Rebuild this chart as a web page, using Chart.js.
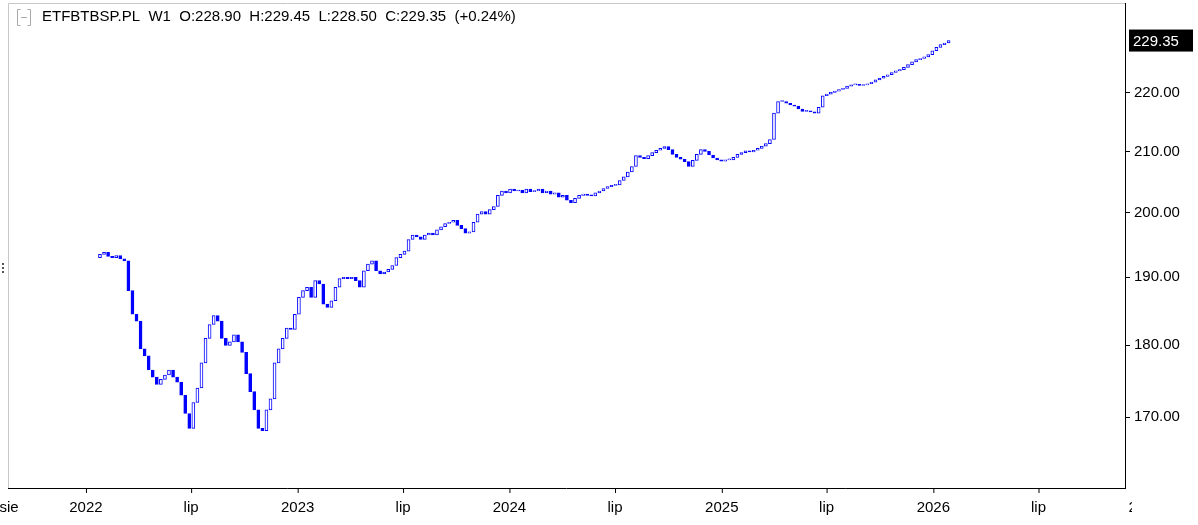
<!DOCTYPE html>
<html><head><meta charset="utf-8">
<script src="https://cdn.jsdelivr.net/npm/chart.js@4"></script>
<style>html,body{margin:0;padding:0;background:#fff}#w{width:1198px;height:525px}</style>
</head><body><div id="w"><canvas id="c"></canvas></div>
<script>
const symbol = "ETFBTBSP.PL";
const headerText = "ETFBTBSP.PL  W1  O:228.90  H:229.45  L:228.50  C:229.35  (+0.24%)";
const lastPrice = 229.35;
// weeks since 2022-01-01 of the first candle
const firstWeek = 3.45;
const closes = [
193.5,193.8,193.2,193.0,193.3,192.8,192.5,188,184.5,183.5,179.5,178.5,176.5,175.5,174.5,175.2,175.8,176.5,175.5,174.8,
173,170.5,168.5,172,174,177.5,181,183,184.3,183.5,181,180,180.5,181.5,180.5,179,176,173.5,171,168.5,
168.2,171,172.5,177.5,179.5,181,182.5,182.3,184.5,187,188,188.5,187,189.5,189,186,185.5,186.5,188.5,189.8,
190,189.8,190,189.5,188.5,191,192,192.5,191,190.5,190.8,191.2,191.8,193,193.5,194,195.8,196.5,196.2,195.8,
196.5,196.8,196.5,197.3,197.8,198.3,198.5,198.8,198,197.5,196.8,197,198.5,199.8,200.2,199.8,200.5,201,202.8,203.5,
203.2,203.8,203.5,203.6,203.2,203.8,203.4,203.5,203.8,203.2,203.5,203,203.2,202.5,202.8,202,201.6,202.3,202.8,203,
202.8,202.7,203.2,203.5,203.9,204.2,204.4,204.5,205.2,205.8,206.6,207.5,209.3,209,208.8,209.3,209.8,210.2,210.5,210.8,
210.3,209.5,209,208.7,208.3,207.5,208.5,209.5,210.3,210,209.4,208.9,208.6,208.4,208.6,208.6,209,209.5,209.8,210.1,
209.9,210.2,210.5,210.9,211.3,212,216.5,218.5,218.5,218.2,217.9,217.7,217.2,216.8,216.8,216.7,216.5,217.5,219.5,219.8,
220.1,220.3,220.6,220.8,221.2,221.4,221.5,221.3,221.4,221.6,221.9,222.3,222.6,222.9,223.2,223.6,223.9,224.1,224.5,225,
225.5,225.9,226.1,226.4,226.8,227.5,228.1,228.6,228.9,229.35];
const firstOpen = 193.0;
const yTicks = [170,180,190,200,210,220];
const xTickLabels = ["sie","2022","lip","2023","lip","2024","lip","2025","lip","2026","lip","2027"];
const xTickWeeks = [-21.9,0,25.9,52.14,78.1,104.3,130.3,156.6,182.4,208.7,234.6,260.9];

const bars = closes.map((c,i)=>({x:firstWeek+i, y:[i===0?firstOpen:closes[i-1], c]}));
const BLUE = '#0000ff';

const overlay = {
  id:'overlay',
  afterDraw(chart){
    const {ctx, chartArea:a, scales:{x,y}} = chart;
    ctx.save();
    ctx.strokeStyle='#c8c8c8'; ctx.lineWidth=1;
    ctx.beginPath(); ctx.moveTo(a.left+0.5,a.bottom); ctx.lineTo(a.left+0.5,a.top+0.5); ctx.lineTo(a.right,a.top+0.5); ctx.stroke();
    ctx.strokeStyle='#000';
    ctx.beginPath(); ctx.moveTo(a.left,a.bottom+0.5); ctx.lineTo(a.right,a.bottom+0.5); ctx.stroke();
    ctx.save();
    ctx.beginPath(); ctx.rect(0,a.bottom,1132,60); ctx.clip();
    ctx.fillStyle='#000'; ctx.font='15px "Liberation Sans", Arial'; ctx.textAlign='center'; ctx.textBaseline='middle';
    xTickLabels.forEach((l,i)=>{
      const px = x.getPixelForValue(xTickWeeks[i]);
      if(px>a.left && px<a.right){ctx.beginPath(); ctx.moveTo(px+0.5,a.bottom); ctx.lineTo(px+0.5,a.bottom+5); ctx.stroke();}
      ctx.fillText(l, i===0?px+12:px, a.bottom+20);
    });
    ctx.restore();
    ctx.fillStyle='#000'; ctx.font='15px "Liberation Sans", Arial'; ctx.textAlign='left'; ctx.textBaseline='middle';
    ctx.fillText(headerText, 42, 17);
    ctx.strokeStyle='#aaa'; ctx.beginPath();
    ctx.moveTo(20.5,9.5); ctx.lineTo(17.5,9.5); ctx.lineTo(17.5,25.5); ctx.lineTo(20.5,25.5);
    ctx.moveTo(27.5,9.5); ctx.lineTo(30.5,9.5); ctx.lineTo(30.5,25.5); ctx.lineTo(27.5,25.5);
    ctx.moveTo(21,17.5); ctx.lineTo(27,17.5); ctx.stroke();
    ctx.fillStyle='#555';
    [263,267,271].forEach(v=>ctx.fillRect(2,v,2,2));
    const py = y.getPixelForValue(lastPrice);
    ctx.fillStyle='#000'; ctx.fillRect(a.right+4, py-11, 64, 22);
    ctx.fillStyle='#fff'; ctx.font='15px "Liberation Sans", Arial'; ctx.textAlign='left';
    ctx.fillText(lastPrice.toFixed(2), a.right+8, py+1);
    ctx.restore();
  }
};

new Chart(document.getElementById('c'), {
  type:'bar',
  data:{datasets:[{
    data:bars,
    backgroundColor: bars.map(b=>b.y[1]>=b.y[0]?'#ffffff':BLUE),
    borderColor: BLUE, borderWidth:1, borderSkipped:false,
    barThickness:3, minBarLength:1, grouped:false
  }]},
  options:{
    responsive:true, maintainAspectRatio:false, animation:false,
    layout:{padding:{left:8,top:3,bottom:37,right:0}},
    plugins:{legend:{display:false},tooltip:{enabled:false}},
    scales:{
      x:{type:'linear', display:false, min:-19.2, max:255.9, offset:false},
      y:{type:'logarithmic', position:'right', min:160.7, max:236.3,
        afterBuildTicks(s){ s.ticks = yTicks.map(v=>({value:v})); },
        afterFit(s){ s.width = 73; s.paddingTop = 0; s.paddingBottom = 0; },
        grid:{drawOnChartArea:false, drawTicks:true, tickLength:5, color:'#000'},
        border:{color:'#000'},
        ticks:{color:'#000', font:{size:15, family:'"Liberation Sans", Arial'}, padding:4,
          callback:v=>Number(v).toFixed(2)}
      }
    }
  },
  plugins:[overlay]
});
</script></body></html>
